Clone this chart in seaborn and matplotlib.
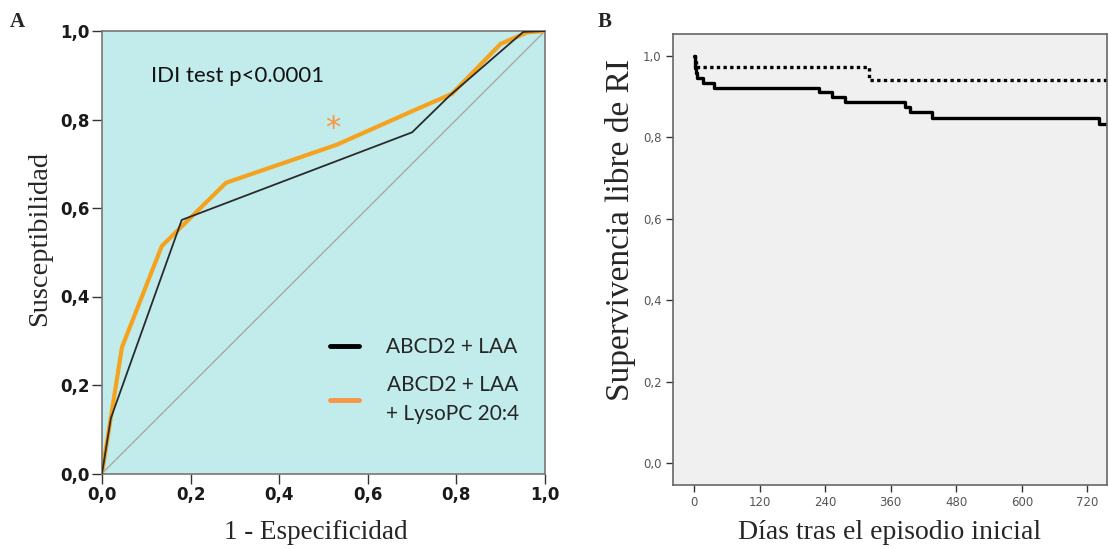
import matplotlib
matplotlib.use("Agg")
import matplotlib.pyplot as plt
import seaborn as sns
import pandas as pd
from matplotlib.lines import Line2D

# ROC curves (1 - specificity, sensitivity)
fpr_base = [0.0, 0.02, 0.18, 0.70, 0.786, 0.951, 1.0]
tpr_base = [0.0, 0.125, 0.573, 0.771, 0.855, 0.998, 1.0]
fpr_lyso = [0.0, 0.045, 0.135, 0.28, 0.53, 0.705, 0.79, 0.90, 0.96, 1.0]
tpr_lyso = [0.0, 0.285, 0.514, 0.657, 0.743, 0.821, 0.858, 0.971, 0.997, 1.0]
roc_labels = ["ABCD2 + LAA", "ABCD2 + LAA\n+ LysoPC 20:4"]
roc_ticks = [0.0, 0.2, 0.4, 0.6, 0.8, 1.0]

# Kaplan-Meier estimates (days, survival)
km_days_low = [0, 1, 3, 321, 760]
km_surv_low = [1.0, 0.99, 0.972, 0.941, 0.941]
km_days_high = [0, 1, 2, 3, 5, 17, 36, 228, 253, 276, 386, 396, 435, 742, 760]
km_surv_high = [1.0, 0.985, 0.97, 0.958, 0.946, 0.934, 0.922, 0.911, 0.899,
                0.887, 0.875, 0.862, 0.849, 0.833, 0.833]
km_xticks = [0, 120, 240, 360, 480, 600, 720]
km_yticks = [0.0, 0.2, 0.4, 0.6, 0.8, 1.0]

sns.set_theme(style="white")

W, H = 1109, 549
fig = plt.figure(figsize=(W / 100, H / 100), dpi=100)
fig.patch.set_facecolor("white")

def box(l, r, t, b):
    return [l / W, 1 - b / H, (r - l) / W, (b - t) / H]

def comma(v, fmt="{:.1f}"):
    return fmt.format(v).replace(".", ",")

serif = ["Liberation Serif", "DejaVu Serif"]
sans = ["Lato", "DejaVu Sans"]

# ---------- Panel A: ROC ----------
axA = fig.add_axes(box(102, 545, 31, 473.5))
axA.set_facecolor("#C2ECEC")
axA.plot([0, 1], [0, 1], color="#A8A8A8", lw=1.0, zorder=1)
df_base = pd.DataFrame({"x": fpr_base, "y": tpr_base})
df_lyso = pd.DataFrame({"x": fpr_lyso, "y": tpr_lyso})
sns.lineplot(data=df_base, x="x", y="y", ax=axA, color="#2A2A2A", lw=1.3,
             sort=False, estimator=None, zorder=3)
sns.lineplot(data=df_lyso, x="x", y="y", ax=axA, color="#F5A21E", lw=3.0,
             sort=False, estimator=None, zorder=2)
axA.set_xlim(0, 1)
axA.set_ylim(0, 1)
axA.set_xticks(roc_ticks)
axA.set_yticks(roc_ticks)
axA.set_xticklabels([comma(v) for v in roc_ticks])
axA.set_yticklabels([comma(v) for v in roc_ticks])
for lab in axA.get_xticklabels() + axA.get_yticklabels():
    lab.set_family("DejaVu Sans")
    lab.set_fontweight("bold")
    lab.set_fontsize(12)
    lab.set_color("#1A1A1A")
axA.tick_params(axis="both", which="both", direction="out", length=7, width=1.0,
                color="#333333", bottom=True, left=True, pad=2)
for s in axA.spines.values():
    s.set_color("#777777")
    s.set_linewidth(1.2)
axA.set_xlabel("1 - Especificidad", family=serif, fontsize=19.5)
axA.set_ylabel("Susceptibilidad", family=serif, fontsize=20.5)
axA.xaxis.set_label_coords(0.483, -0.104)
axA.yaxis.set_label_coords(-0.113, 0.532)
axA.text(0.11, 0.898, "IDI test p<0.0001", transform=axA.transAxes, fontsize=16,
         family=sans, color="#111111", va="center")
axA.text(0.52, 0.78, "*", fontsize=22, color="#F79646", ha="center", va="center",
         family=["DejaVu Sans"])
handles = [Line2D([], [], color="black", lw=3.5),
           Line2D([], [], color="#F79646", lw=3.5)]
leg = axA.legend(handles, roc_labels, loc="center right", bbox_to_anchor=(0.985, 0.21),
                 frameon=False, handlelength=1.4, handletextpad=1.3,
                 labelspacing=0.85, prop={"family": sans, "size": 15})
for t in leg.get_texts():
    t.set_multialignment("center")
    t.set_linespacing(1.55)

fig.text(10 / W, 1 - 22 / H, "A", family=serif, fontsize=15, fontweight="bold",
         va="center", ha="left")

# ---------- Panel B: Kaplan-Meier ----------
axB = fig.add_axes(box(672.7, 1107, 34, 485))
axB.set_facecolor("#F0F0F0")
df_low = pd.DataFrame({"d": km_days_low, "s": km_surv_low})
df_high = pd.DataFrame({"d": km_days_high, "s": km_surv_high})
sns.lineplot(data=df_low, x="d", y="s", ax=axB, color="black", lw=2.4,
             drawstyle="steps-post", linestyle=(0, (1, 1)), sort=False, estimator=None)
sns.lineplot(data=df_high, x="d", y="s", ax=axB, color="black", lw=2.4,
             drawstyle="steps-post", sort=False, estimator=None)
axB.set_xlim(-39, 756)
axB.set_ylim(-0.053, 1.054)
axB.set_xticks(km_xticks)
axB.set_yticks(km_yticks)
axB.set_xticklabels([str(v) for v in km_xticks])
axB.set_yticklabels([comma(v) for v in km_yticks])
for lab in axB.get_xticklabels() + axB.get_yticklabels():
    lab.set_family("DejaVu Sans")
    lab.set_fontsize(8.5)
    lab.set_color("#555555")
axB.tick_params(axis="both", direction="out", length=5, width=1.0,
                color="#333333", bottom=True, left=True, pad=3)
for s in axB.spines.values():
    s.set_color("#666666")
    s.set_linewidth(1.2)
axB.set_xlabel("Días tras el episodio inicial", family=serif, fontsize=20, labelpad=8)
axB.set_ylabel("Supervivencia libre de RI", family=serif, fontsize=24)
axB.yaxis.set_label_coords(-0.0845, 0.565)

fig.text(598 / W, 1 - 22 / H, "B", family=serif, fontsize=15, fontweight="bold",
         va="center", ha="left")

fig.savefig("out.png", dpi=100)
